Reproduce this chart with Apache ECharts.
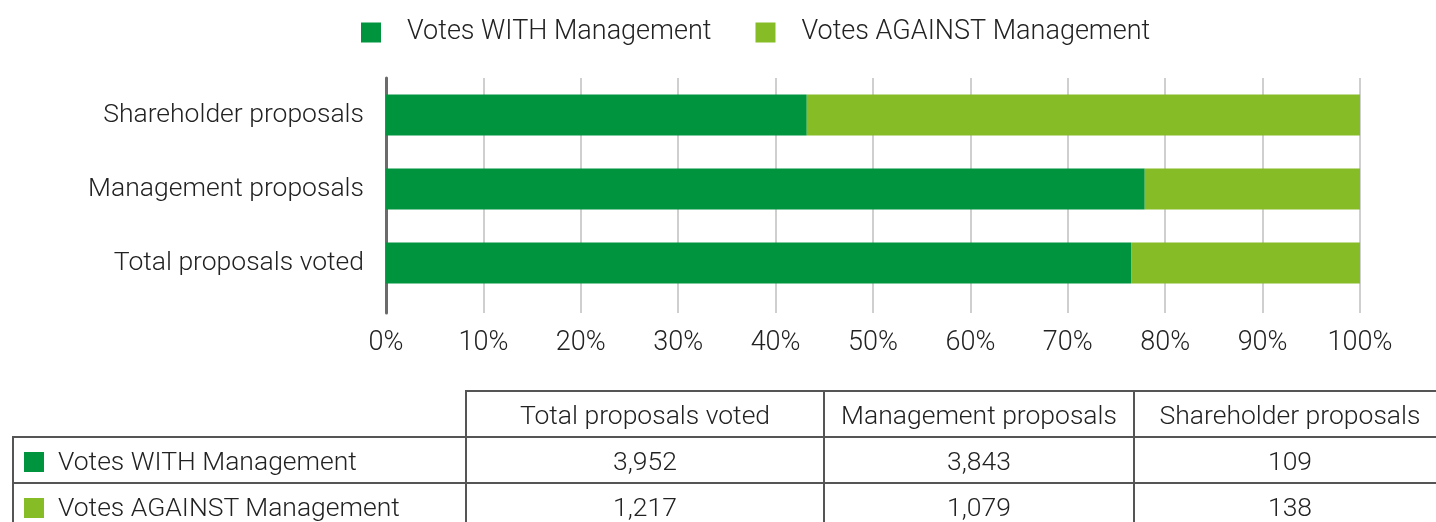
<!DOCTYPE html>
<html>
<head>
<meta charset="utf-8">
<script src="https://cdn.jsdelivr.net/npm/echarts@6/dist/echarts.min.js"></script>
<style>
  html, body { margin: 0; padding: 0; background: #fff; }
  #wrap { position: relative; width: 1436px; height: 522px; overflow: hidden; }
  #chart { position: absolute; left: 0; top: 0; width: 1436px; height: 522px; }
  #tbl {
    position: absolute; left: 12px; top: 390px; width: 1433px;
    border-collapse: collapse; table-layout: fixed;
    font-family: Roboto, 'Liberation Sans', sans-serif; font-weight: 300;
    font-size: 26.5px; color: #222;
  }
  #tbl td { border: 2px solid #555; text-align: center; padding: 0; height: 44px; white-space: nowrap; overflow: hidden; }
  #tbl td.blank { border-top: none; border-left: none; }
  #tbl td.lab { text-align: left; padding-left: 10px; }
  .sw { display: inline-block; width: 20px; height: 20px; margin-right: 14px; vertical-align: -2px; }
</style>
</head>
<body>
<div id="wrap">
  <div id="chart"></div>
  <table id="tbl"></table>
</div>
<script>
// bottom-to-top order for the category axis
const categories = ['Total proposals voted', 'Management proposals', 'Shareholder proposals']
const withPct = [76.5, 77.9, 43.2]
const againstPct = [23.5, 22.1, 56.8]
const seriesNames = ['Votes WITH Management', 'Votes AGAINST Management']
const colors = ['#00943f', '#86bc25']

// data table under the chart
const tableHeaders = ['Total proposals voted', 'Management proposals', 'Shareholder proposals']
const withCounts = ['3,952', '3,843', '109']
const againstCounts = ['1,217', '1,079', '138']

const colWidths = [453, 358, 310, 312]
let html = '<colgroup>' + colWidths.map(w => '<col style="width:' + w + 'px">').join('') + '</colgroup>'
html += '<tr><td class="blank"></td>' + tableHeaders.map(h => '<td>' + h + '</td>').join('') + '</tr>'
const rows = [withCounts, againstCounts]
rows.forEach((r, i) => {
    html += '<tr><td class="lab"><span class="sw" style="background:' + colors[i] + '"></span>' + seriesNames[i] + '</td>' +
        r.map(v => '<td>' + v + '</td>').join('') + '</tr>'
})
document.getElementById('tbl').innerHTML = html

const myChart = echarts.init(document.getElementById('chart'))
const font = 'Roboto, Liberation Sans, sans-serif'
myChart.setOption({
    animation: false,
    textStyle: { fontFamily: font, fontWeight: 300 },
    legend: {
        data: seriesNames,
        left: 361,
        top: 19,
        padding: 0,
        icon: 'rect',
        itemWidth: 20,
        itemHeight: 20,
        itemGap: 44,
        textStyle: { fontSize: 27, color: '#222', fontFamily: font, fontWeight: 300, padding: [0, 0, 0, 21] }
    },
    grid: [
        // grid for gridlines / axis labels (taller than bar area)
        { left: 386, right: 76, top: 78, height: 235 },
        // grid for the bars
        { left: 386, right: 76, top: 78, height: 222 }
    ],
    xAxis: [
        {
            gridIndex: 0, type: 'value', min: 0, max: 100, interval: 10,
            axisLine: { show: false }, axisTick: { show: false },
            splitLine: { lineStyle: { color: '#cfcfcf', width: 2 } },
            axisLabel: { formatter: '{value}%', fontSize: 27, color: '#222', margin: 17, fontFamily: font, fontWeight: 300 }
        },
        { gridIndex: 1, type: 'value', min: 0, max: 100, show: false }
    ],
    yAxis: [
        {
            gridIndex: 0, type: 'value', min: 0, max: 1,
            axisLine: { show: true, lineStyle: { color: '#6b6b6b', width: 3 } },
            axisTick: { show: false }, axisLabel: { show: false }, splitLine: { show: false }
        },
        {
            gridIndex: 1, type: 'category', data: categories,
            axisLine: { show: false }, axisTick: { show: false },
            axisLabel: { fontSize: 26.5, color: '#222', margin: 22, fontFamily: font, fontWeight: 300 }
        }
    ],
    series: [
        {
            name: seriesNames[0], type: 'bar', stack: 'votes', xAxisIndex: 1, yAxisIndex: 1,
            barWidth: 41, itemStyle: { color: colors[0] }, data: withPct
        },
        {
            name: seriesNames[1], type: 'bar', stack: 'votes', xAxisIndex: 1, yAxisIndex: 1,
            barWidth: 41, itemStyle: { color: colors[1] }, data: againstPct
        }
    ]
})
window.addEventListener('resize', function() {
    myChart.resize()
})
</script>
</body>
</html>
